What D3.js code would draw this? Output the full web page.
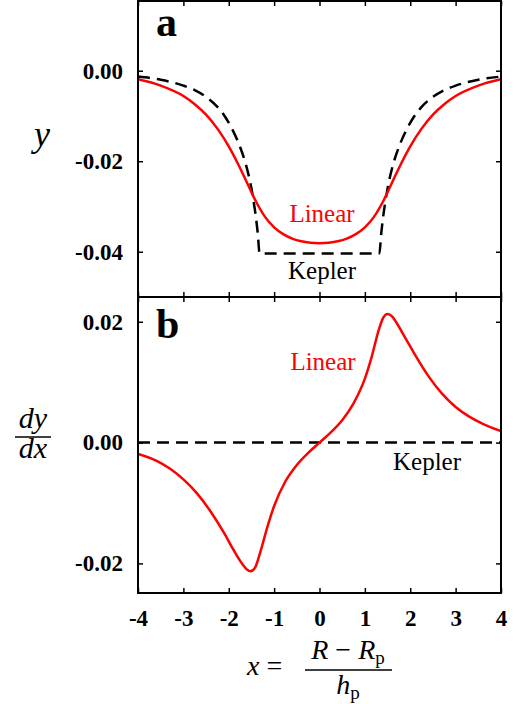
<!DOCTYPE html>
<html>
<head>
<meta charset="utf-8">
<script src="https://cdn.jsdelivr.net/npm/d3@7"></script>
<style>
  html, body { margin: 0; padding: 0; background: #fff; }
</style>
</head>
<body>
<svg id="chart" width="516" height="704" font-family="Liberation Serif, Tinos, Times New Roman, Nimbus Roman, FreeSerif, serif"></svg>
<script>
// Panel a: profile y(x)
const linearX = [-4.0, -3.5, -3.0, -2.75, -2.5, -2.25, -2.0, -1.8, -1.6, -1.4, -1.2, -1.0, -0.8, -0.6, -0.4, -0.2, 0,
                 0.2, 0.4, 0.6, 0.8, 1.0, 1.2, 1.4, 1.6, 1.8, 2.0, 2.25, 2.5, 2.75, 3.0, 3.5, 4.0];
const linearY = [-0.0019, -0.0033, -0.0056, -0.0074, -0.0097, -0.0128, -0.0167, -0.0205, -0.0247, -0.0289, -0.0323, -0.0346, -0.0361, -0.0371, -0.0377, -0.0380, -0.0381,
                 -0.0380, -0.0377, -0.0371, -0.0361, -0.0346, -0.0323, -0.0289, -0.0247, -0.0205, -0.0167, -0.0128, -0.0097, -0.0074, -0.0056, -0.0033, -0.0019];

const keplerX = [-4.0, -3.5, -3.0, -2.75, -2.5, -2.25, -2.06, -1.9, -1.76, -1.62, -1.51, -1.45, -1.4, -1.36, -1.32,
                 1.32, 1.36, 1.4, 1.45, 1.51, 1.62, 1.76, 1.9, 2.06, 2.25, 2.5, 2.75, 3.0, 3.5, 4.0];
const keplerY = [-0.0013, -0.0020, -0.0033, -0.0043, -0.0058, -0.0080, -0.0105, -0.0134, -0.0166, -0.0208, -0.0255, -0.0290, -0.0325, -0.0360, -0.0404,
                 -0.0404, -0.0360, -0.0325, -0.0290, -0.0255, -0.0208, -0.0166, -0.0134, -0.0105, -0.0080, -0.0058, -0.0043, -0.0033, -0.0020, -0.0013];

// Panel b: derivative dy/dx
const slopeX = [-4.0, -3.6, -3.3, -3.0, -2.7, -2.4, -2.1, -1.9, -1.7, -1.6, -1.52, -1.42, -1.3, -1.15, -1.0, -0.75, -0.5, -0.25, 0,
                0.25, 0.5, 0.75, 1.0, 1.15, 1.3, 1.4, 1.5, 1.6, 1.7, 1.9, 2.1, 2.4, 2.7, 3.0, 3.3, 3.6, 4.0];
const slopeY = [-0.0019, -0.0030, -0.0043, -0.0061, -0.0084, -0.0114, -0.0150, -0.0177, -0.0201, -0.0210, -0.0213, -0.0207, -0.0180, -0.0140, -0.0105, -0.0064, -0.0037, -0.0017, 0,
                0.0017, 0.0037, 0.0065, 0.0106, 0.0142, 0.0185, 0.0206, 0.0213, 0.0209, 0.0198, 0.0172, 0.0146, 0.0110, 0.0081, 0.0059, 0.0043, 0.0031, 0.0019];

const keplerSlopeX = [-4, 4];
const keplerSlopeY = [0, 0];

// Ticks
const xTicks = [-4, -3, -2, -1, 0, 1, 2, 3, 4];
const xTickLabels = ["-4", "-3", "-2", "-1", "0", "1", "2", "3", "4"];
const yTicksA = [0, -0.02, -0.04];
const yTickLabelsA = ["0.00", "-0.02", "-0.04"];
const yTicksB = [0.02, 0, -0.02];
const yTickLabelsB = ["0.02", "0.00", "-0.02"];

const SERIF = "Liberation Serif, Tinos, Times New Roman, Nimbus Roman, FreeSerif, serif";
const svg = d3.select("#chart");
const left = 138, right = 501;
const aTop = 1, aBot = 297, bTop = 297, bBot = 593;

const x = d3.scaleLinear().domain([-4, 4]).range([left, right]);
const yA = d3.scaleLinear().domain([-0.05, 0.0154]).range([aBot, aTop]);
const yB = d3.scaleLinear().domain([-0.0249, 0.0241]).range([bBot, bTop]);

const defs = svg.append("defs");
defs.append("clipPath").attr("id", "clipA").append("rect")
  .attr("x", left).attr("y", aTop).attr("width", right - left).attr("height", aBot - aTop);
defs.append("clipPath").attr("id", "clipB").append("rect")
  .attr("x", left).attr("y", bTop).attr("width", right - left).attr("height", bBot - bTop);

const zip = (xs, ys) => xs.map((v, i) => [v, ys[i]]);

function drawLine(g, xs, ys, yScale, opts) {
  const line = d3.line().x(d => x(d[0])).y(d => yScale(d[1])).curve(d3.curveMonotoneX);
  g.append("path").datum(zip(xs, ys))
    .attr("d", line)
    .attr("fill", "none")
    .attr("stroke", opts.color)
    .attr("stroke-width", 2.5)
    .attr("stroke-dasharray", opts.dash || null);
}

const gA = svg.append("g").attr("clip-path", "url(#clipA)");
drawLine(gA, keplerX, keplerY, yA, { color: "#000", dash: "12,7" });
drawLine(gA, linearX, linearY, yA, { color: "#ff0000" });

const gB = svg.append("g").attr("clip-path", "url(#clipB)");
drawLine(gB, keplerSlopeX, keplerSlopeY, yB, { color: "#000", dash: "12,7" });
drawLine(gB, slopeX, slopeY, yB, { color: "#ff0000" });

function styleAxis(g) {
  g.attr("font-family", SERIF);
  g.select(".domain").remove();
  g.selectAll(".tick line").attr("stroke-width", 1.5);
  g.selectAll(".tick text")
    .attr("font-family", SERIF).attr("font-weight", "bold").attr("font-size", 23).attr("fill", "#000");
}

// Axes with inward ticks on all four sides
function yAxes(yScale, ticks, labels) {
  svg.append("g").attr("transform", `translate(${left},0)`)
    .call(d3.axisLeft(yScale).tickValues(ticks).tickSize(-5).tickPadding(15)
      .tickFormat((d, i) => labels[i]))
    .call(styleAxis);
  svg.append("g").attr("transform", `translate(${right},0)`)
    .call(d3.axisRight(yScale).tickValues(ticks).tickSize(-5).tickFormat(""))
    .call(styleAxis);
}
yAxes(yA, yTicksA, yTickLabelsA);
yAxes(yB, yTicksB, yTickLabelsB);

function xTickRow(yPos, inwardUp, withLabels) {
  const ax = (inwardUp ? d3.axisBottom(x).tickSize(-5) : d3.axisTop(x).tickSize(-5))
    .tickValues(xTicks).tickPadding(17)
    .tickFormat(withLabels ? (d, i) => xTickLabels[i] : "");
  svg.append("g").attr("transform", `translate(0,${yPos})`)
    .call(ax)
    .call(styleAxis);
}
xTickRow(aTop, false, false);
xTickRow(aBot, true, false);
xTickRow(bTop, false, false);
xTickRow(bBot, true, true);

// Frames
[[aTop, aBot], [bTop, bBot]].forEach(([t, b]) => {
  svg.append("rect").attr("x", left).attr("y", t).attr("width", right - left).attr("height", b - t)
    .attr("fill", "none").attr("stroke", "#000").attr("stroke-width", 2);
});

function label(xp, yp, size, txt, opts = {}) {
  const t = svg.append("text").attr("x", xp).attr("y", yp)
    .attr("font-family", SERIF).attr("font-size", size)
    .attr("text-anchor", opts.anchor || "start")
    .attr("fill", opts.color || "#000")
    .text(txt);
  if (opts.weight) t.attr("font-weight", opts.weight);
  if (opts.style) t.attr("font-style", opts.style);
  return t;
}

// Panel letters
label(156, 36, 42, "a", { weight: "bold" });
label(156, 338, 42, "b", { weight: "bold" });

// Curve labels
label(322, 222, 25, "Linear", { anchor: "middle", color: "#ff0000" });
label(322, 279, 25, "Kepler", { anchor: "middle" });
label(323, 370, 25, "Linear", { anchor: "middle", color: "#ff0000" });
label(427, 470, 25, "Kepler", { anchor: "middle" });

// Axis titles
label(42, 146, 36, "y", { anchor: "middle", style: "italic" });

label(33, 428, 30, "dy", { anchor: "middle", style: "italic" });
svg.append("line").attr("x1", 15).attr("x2", 51).attr("y1", 437).attr("y2", 437)
  .attr("stroke", "#000").attr("stroke-width", 1.5);
label(33, 458, 30, "dx", { anchor: "middle", style: "italic" });

const xt = label(247, 675, 28, "");
xt.append("tspan").attr("font-style", "italic").text("x");
xt.append("tspan").text(" =");

const num = label(348, 659, 28, "", { anchor: "middle" });
num.append("tspan").attr("font-style", "italic").text("R");
num.append("tspan").text(" \u2212 ");
num.append("tspan").attr("font-style", "italic").text("R");
num.append("tspan").attr("font-size", 19).attr("dy", 5).text("p");
svg.append("line").attr("x1", 305).attr("x2", 392).attr("y1", 670).attr("y2", 670)
  .attr("stroke", "#000").attr("stroke-width", 1.5);
const den = label(348, 694, 28, "", { anchor: "middle" });
den.append("tspan").attr("font-style", "italic").text("h");
den.append("tspan").attr("font-size", 19).attr("dy", 5).text("p");
</script>
</body>
</html>
